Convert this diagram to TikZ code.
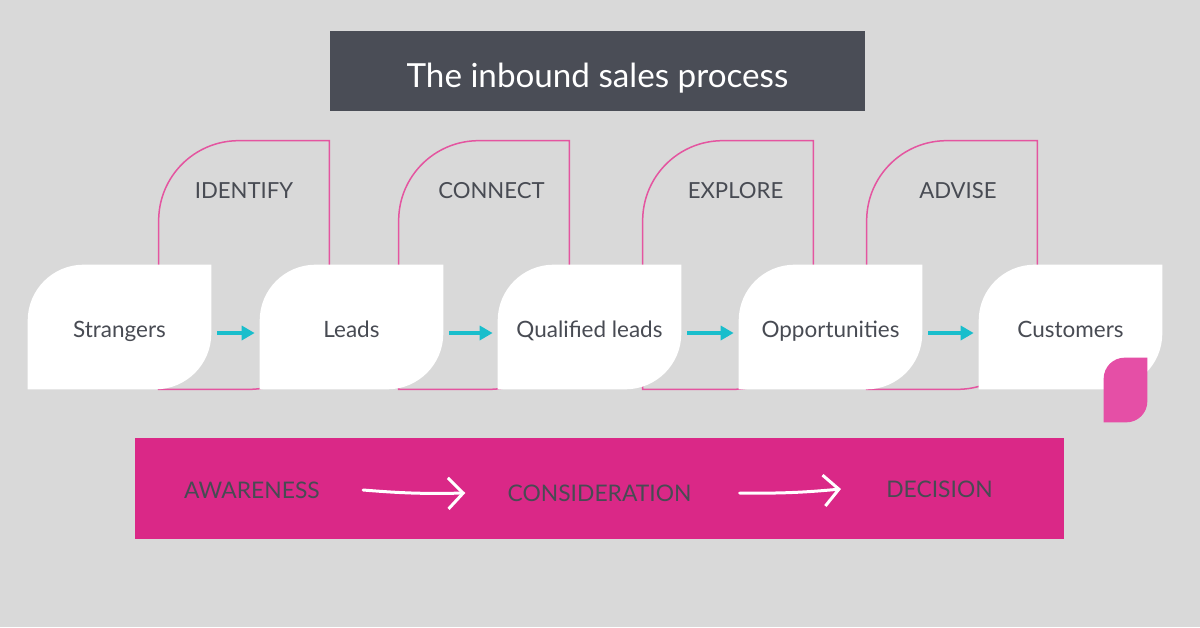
\documentclass[tikz,border=0pt]{standalone}
\usepackage{fontspec}
\setmainfont{Lato}
\usetikzlibrary{arrows.meta,positioning,calc}
\definecolor{slate}{RGB}{74,77,86}
\definecolor{inkgrey}{RGB}{72,75,83}
\definecolor{canvasgrey}{RGB}{217,217,217}
\definecolor{hotpink}{RGB}{218,40,135}
\definecolor{linepink}{RGB}{228,85,160}
\definecolor{cornerpink}{RGB}{229,79,166}
\definecolor{flowcyan}{RGB}{25,190,204}
\pgfdeclarelayer{back}
\pgfdeclarelayer{mid}
\pgfsetlayers{back,mid,main}

% leaf outline: node #1, radius #2 on top-left and bottom-right corners
\newcommand{\leaf}[3]{%
  \path[#3] (#1.south west) -- ([yshift=-#2]#1.north west)
    arc[start angle=180, end angle=90, radius=#2] -- (#1.north east)
    -- ([yshift=#2]#1.south east)
    arc[start angle=0, end angle=-90, radius=#2] -- cycle;}

\begin{document}
\begin{tikzpicture}[x=0.02cm, y=0.02cm,
    stagebox/.style={minimum width=3.66cm, minimum height=2.48cm, inner sep=0pt,
                     text height=12.5pt, text depth=0pt,
                     font=\fontsize{12.8}{15}\selectfont, text=inkgrey},
    phase/.style={minimum width=3.4cm, minimum height=4.96cm, inner sep=0pt},
    phaselbl/.style={font=\fontsize{12.6}{14}\selectfont, text=inkgrey},
    funnel/.style={font=\fontsize{13}{15}\selectfont, text=inkgrey, inner sep=0pt},
    flow/.style={-{Triangle[length=0.26cm, width=0.28cm]}, line width=0.08cm,
                 flowcyan, shorten <=0.12cm, shorten >=0.1cm},
    chalk/.style={-{Straight Barb[length=0.3cm, width=0.62cm]}, line width=0.06cm,
                  white, line cap=round}
  ]
  \useasboundingbox (0,0) rectangle (1200,627);

  % title
  \node[fill=slate, text=white, minimum width=10.7cm, minimum height=1.6cm,
        inner sep=0pt, text height=19.3pt, text depth=0pt,
        font=\fontsize{18.9}{22}\selectfont] (title) at (597.5,556)
        {The inbound sales process};

  % phases behind the stages
  \node[phase] (o1) at (244,362) {};
  \node[phase] (o2) at (484,362) {};
  \node[phase] (o3) at (728,362) {};
  \node[phase] (o4) at (952,362) {};
  \node[phaselbl] (l1) at ([yshift=-1.0cm]o1.north) {IDENTIFY};
  \node[phaselbl] (l2) at ([xshift=0.15cm, yshift=-1.0cm]o2.north) {CONNECT};
  \node[phaselbl] (l3) at ([xshift=0.15cm, yshift=-1.0cm]o3.north) {EXPLORE};
  \node[phaselbl] (l4) at ([xshift=0.12cm, yshift=-1.0cm]o4.north) {ADVISE};

  % stages
  \node[stagebox] (s1) at (119.5,300) {Strangers};
  \node[stagebox] (s2) at (351.5,300) {Leads};
  \node[stagebox] (s3) at (589.5,300) {Qualified leads};
  \node[stagebox] (s4) at (830.5,300) {Opportunities};
  \node[stagebox] (s5) at (1070.5,300) {Customers};
  \node[minimum width=0.86cm, minimum height=1.28cm, inner sep=0pt] (tip) at (1125.5,237) {};

  \foreach \a/\b in {s1/s2,s2/s3,s3/s4,s4/s5}
    \draw[flow] ([yshift=-0.12cm]\a.east) -- ([yshift=-0.12cm]\b.west);

  % funnel band
  \node[fill=hotpink, minimum width=18.58cm, minimum height=2.02cm] (band) at (599.5,138.5) {};
  \node[funnel] (aw) at (252,137) {AWARENESS};
  \node[funnel] (con) at (599.5,134) {CONSIDERATION};
  \node[funnel] (dec) at (939.5,138) {DECISION};
  \draw[chalk] ([xshift=0.86cm]aw.east) to[bend right=3] ([xshift=-0.84cm]con.west);
  \draw[chalk] ([xshift=0.96cm]con.east) to[bend right=3] ([xshift=-0.9cm]dec.west);

  \begin{pgfonlayer}{back}
    \fill[canvasgrey] (0,0) rectangle (1200,627);
    \foreach \o in {o1,o2,o3,o4}
      \leaf{\o}{1.6cm}{draw=linepink, line width=0.03cm};
  \end{pgfonlayer}
  \begin{pgfonlayer}{mid}
    \foreach \s in {s1,s2,s3,s4,s5}
      \leaf{\s}{1.12cm}{fill=white};
  \end{pgfonlayer}
  \leaf{tip}{0.42cm}{fill=cornerpink};
\end{tikzpicture}
\end{document}
